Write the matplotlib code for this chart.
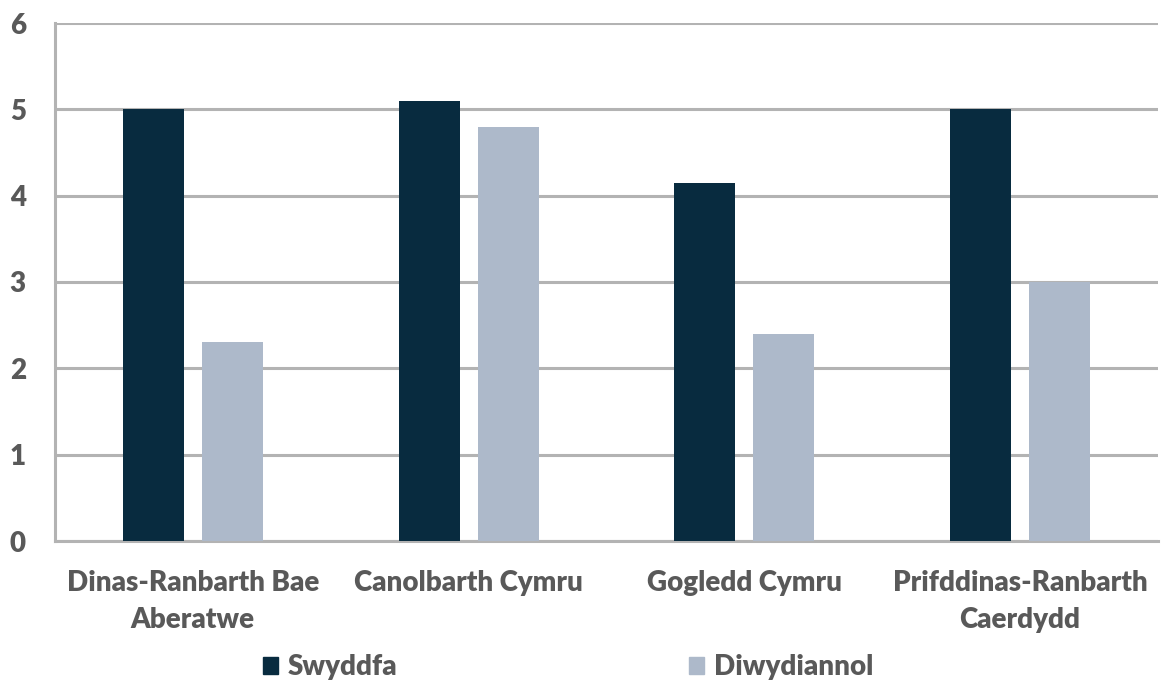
import matplotlib
matplotlib.use("Agg")
import matplotlib.pyplot as plt
import numpy as np
from matplotlib.patches import Rectangle

categories = ["Dinas-Ranbarth Bae\nAberatwe", "Canolbarth Cymru", "Gogledd Cymru", "Prifddinas-Ranbarth\nCaerdydd"]
series_names = ["Swyddfa", "Diwydiannol"]
swyddfa = [5.0, 5.1, 4.15, 5.0]
diwydiannol = [2.3, 4.8, 2.4, 3.0]
yticks = [0, 1, 2, 3, 4, 5, 6]

colors = ["#082b3f", "#adb9ca"]
text_color = "#595959"
grid_color = "#b3b3b3"

plt.rcParams['font.family'] = ['Lato', 'DejaVu Sans']

fig = plt.figure(figsize=(11.62, 6.84), dpi=100)
ax = fig.add_axes([55/1162, 1 - 541/684, (1158 - 55)/1162, (541 - 23)/684])

x = np.arange(len(categories))
w = 0.221
off = 0.143
ax.bar(x - off, swyddfa, w, color=colors[0], zorder=3)
ax.bar(x + off, diwydiannol, w, color=colors[1], zorder=3)

fs = 20
ax.set_xlim(-0.5, len(categories) - 0.5)
ax.set_ylim(0, 6)
ax.set_yticks(yticks)
ax.set_yticklabels([str(t) for t in yticks], fontsize=fs, fontweight='heavy', color=text_color)
ax.yaxis.grid(True, color=grid_color, linewidth=2.2, zorder=0)
ax.set_axisbelow(True)
for s in ['top', 'right']:
    ax.spines[s].set_visible(False)
ax.spines['left'].set_color(grid_color)
ax.spines['left'].set_linewidth(2.2)
ax.spines['bottom'].set_color(grid_color)
ax.spines['bottom'].set_linewidth(2.2)
ax.tick_params(axis='both', length=0)
ax.tick_params(axis='y', pad=21)
ax.set_xticks(x)
ax.set_xticklabels(categories, fontsize=fs, fontweight='heavy', color=text_color, linespacing=1.5)
ax.tick_params(axis='x', pad=21)

handles = [Rectangle((0, 0), 1, 1, color=c) for c in colors]
leg = fig.legend(handles, series_names, loc='center', bbox_to_anchor=(568/1162, 1 - 667/684),
                 ncol=2, frameon=False, fontsize=fs, handlelength=0.55, handleheight=0.55,
                 handletextpad=0.35, columnspacing=10.5)
for t in leg.get_texts():
    t.set_color(text_color)
    t.set_fontweight('heavy')

fig.savefig("out.png", dpi=100)
